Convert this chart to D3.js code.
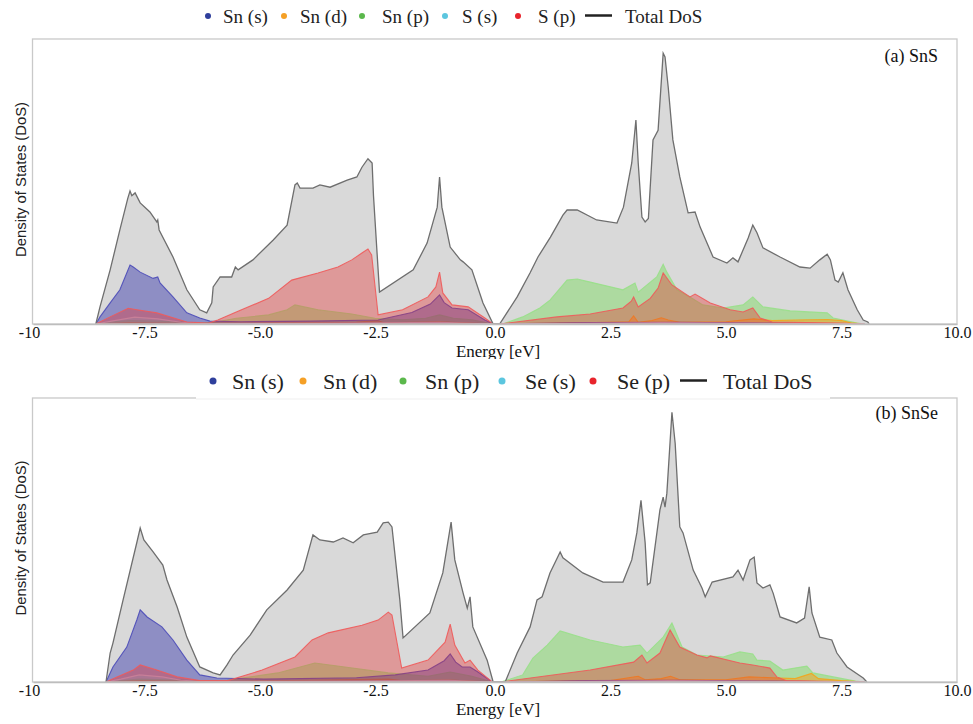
<!DOCTYPE html>
<html>
<head>
<meta charset="utf-8">
<script src="https://cdn.jsdelivr.net/npm/d3@7"></script>
<style>
  body { margin: 0; background: #fff; }
  svg { display: block; }
  .tick text { font-family: "Liberation Serif", "Times New Roman", serif; font-size: 16px; fill: #111; }
</style>
</head>
<body>
<div id="chart"></div>
<script>
// ---- data: [energy eV, DoS in % of panel height] ----

var xTicks = [-10, -7.5, -5, -2.5, 0, 2.5, 5, 7.5, 10];

// (a) SnS
var snsTotal = [[-8.64,0],[-8.55,6],[-8.33,19],[-8.12,33],[-7.95,44],[-7.9,46.7],[-7.86,45],[-7.79,46],[-7.68,42.5],[-7.47,39.3],[-7.32,35.8],[-7.3,36.5],[-7.27,33],[-6.97,23.5],[-6.67,12],[-6.39,5],[-6.24,3.9],[-6.13,7.4],[-6.1,13],[-5.95,16.5],[-5.7,16.5],[-5.62,20],[-5.56,19],[-5.24,22.5],[-4.8,29.5],[-4.5,34.7],[-4.33,48.8],[-4.28,49.5],[-4.22,47.7],[-3.94,47.7],[-3.79,48.8],[-3.57,48],[-3.2,50.5],[-2.99,51.6],[-2.88,55],[-2.75,58],[-2.66,56.5],[-2.63,45],[-2.5,11.2],[-1.77,19],[-1.47,28.4],[-1.25,41],[-1.2,51.6],[-1.15,41],[-0.97,27],[-0.75,22.5],[-0.69,21.8],[-0.5,19],[-0.26,7.4],[-0.04,0],[0.1,0],[0.48,9.5],[0.76,18],[0.93,23.5],[1.2,30.5],[1.47,38.2],[1.56,40],[1.78,40],[2.2,36.5],[2.64,35.4],[2.78,41],[2.96,56.5],[3.05,71.6],[3.1,56.5],[3.18,37.5],[3.25,35.8],[3.32,37],[3.42,64.6],[3.53,68],[3.64,95],[3.68,93.7],[3.75,83],[3.85,64.6],[4.0,51.6],[4.18,39],[4.33,39.3],[4.44,34],[4.72,23.5],[5.02,21.4],[5.15,23.2],[5.26,21.8],[5.48,30.2],[5.58,34.7],[5.67,32],[5.8,26.7],[6.17,23.5],[6.6,20],[6.82,19.6],[7.03,22.5],[7.19,24.5],[7.26,22.5],[7.36,15.4],[7.43,14.7],[7.53,18],[7.64,12],[7.84,5],[7.97,1.4],[8.07,0.7],[8.1,0]];
var snsSnS = [[-8.64,0],[-8.55,2.5],[-8.33,7.4],[-8.12,12],[-7.9,20.7],[-7.83,20],[-7.68,18.2],[-7.4,16],[-7.3,16.5],[-7.25,14.4],[-6.97,9.5],[-6.67,3.9],[-6.39,2.1],[-6.17,1],[-5.5,0.8],[-4,1],[-2.53,1.4],[-1.8,4],[-1.4,7],[-1.2,10.2],[-1.1,7.5],[-0.93,5.6],[-0.58,5],[-0.22,1.4],[-0.04,0],[0.1,0],[2,0.5],[4,0.6],[6,0.3],[8,0]];
var snsSnD = [[-8.64,0],[-7.9,0.5],[-6.5,0.2],[-5,0.4],[-3,0.6],[-2.55,1.2],[-2.4,0.4],[-1.2,0.8],[-0.04,0],[0.1,0],[2,0.4],[2.9,0.8],[3.0,2.8],[3.1,0.6],[3.4,1.2],[3.6,2.2],[3.75,1.4],[4.0,0.6],[5.0,0.8],[5.6,1.8],[6.0,1.2],[6.5,1.4],[7.2,1.6],[7.5,1.2],[7.7,0.4],[8.0,0]];
var snsSnP = [[-8.64,0],[-8.3,0.8],[-7.9,1.2],[-7.3,1],[-6.6,0.5],[-6.1,0.5],[-5.6,2],[-4.9,3.2],[-4.5,5],[-4.33,6.7],[-3.83,5],[-3.1,3.5],[-2.6,2],[-2.0,1.5],[-1.5,2],[-1.2,3.2],[-0.9,2],[-0.5,1.5],[-0.04,0],[0.17,0],[0.6,2.5],[0.97,5.6],[1.19,8.4],[1.56,15.4],[1.78,15.8],[2.06,14.7],[2.77,12],[3.03,14.4],[3.1,11.2],[3.5,16.5],[3.64,21],[3.72,18.2],[3.94,12],[4.22,9.5],[4.5,6.7],[4.94,5.6],[5.37,6.7],[5.58,9.5],[5.8,6],[6.39,4.6],[7.19,3.9],[7.32,2.1],[7.53,1.4],[7.84,0.3],[8.0,0]];
var snsSS = [[-8.64,0],[-8.3,1],[-7.8,2.4],[-7.3,1.8],[-6.8,0.6],[-6.2,0.2],[-3,0.3],[-1.2,0.6],[-0.04,0],[0.1,0],[3.6,0.5],[8,0]];
var snsSP = [[-8.64,0],[-8.33,2.5],[-7.94,5.5],[-7.75,5],[-7.32,3.9],[-6.67,0.7],[-6.2,0.3],[-6.0,1.4],[-5.6,4.2],[-4.9,9],[-4.4,15.4],[-3.83,17.9],[-3.4,20],[-3.1,22.5],[-2.88,24.9],[-2.75,26.3],[-2.67,24.2],[-2.53,3.2],[-2.0,5],[-1.45,9.5],[-1.28,13],[-1.2,18.2],[-1.13,10.9],[-0.93,6.7],[-0.58,6],[-0.22,2.1],[-0.04,0],[0.1,0],[1.34,2.5],[2.06,3.5],[2.77,5.6],[2.95,8],[3.0,9.5],[3.1,6],[3.36,9],[3.53,12.6],[3.64,17.9],[3.83,13.7],[4.22,9.5],[4.33,10.5],[4.66,7.4],[5.09,5],[5.37,4.2],[5.58,5.6],[5.74,2.1],[6.0,0.7],[7.5,0.3],[8.0,0]];

// (b) SnSe
var snseTotal = [[-8.42,0],[-8.33,10.2],[-8.27,13.7],[-8.05,28.9],[-7.75,49.3],[-7.68,54.2],[-7.6,50],[-7.4,45.8],[-7.19,41.2],[-7.1,35.9],[-6.88,26.4],[-6.67,15.8],[-6.39,5.3],[-6.1,3.2],[-5.95,2.5],[-5.8,6],[-5.67,9.5],[-5.3,16.5],[-4.94,25.4],[-4.5,32.4],[-4.15,39.4],[-3.94,51.8],[-3.79,50],[-3.5,49.3],[-3.29,50.7],[-3.07,49],[-2.85,51.8],[-2.55,52.8],[-2.42,56],[-2.31,56.3],[-2.23,54.6],[-2.06,28.9],[-1.99,15.5],[-1.41,24.3],[-1.13,38.4],[-0.95,56.3],[-0.87,43],[-0.69,31.3],[-0.6,26],[-0.54,30],[-0.48,19.4],[-0.17,7.7],[-0.04,0],[0.22,0],[0.48,10.2],[0.76,19.4],[0.91,28.9],[1.02,30],[1.19,38.4],[1.41,45.8],[1.47,43.7],[1.9,38.4],[2.34,35.2],[2.77,35.2],[2.96,43],[3.07,52.5],[3.16,64],[3.25,49],[3.3,34.2],[3.36,34.9],[3.57,60.6],[3.64,65.1],[3.68,61.6],[3.72,66.5],[3.83,95],[3.9,84],[4.0,54.6],[4.07,52.5],[4.29,39.4],[4.48,33.1],[4.55,30],[4.7,35.2],[5.15,37],[5.26,39.4],[5.37,35.9],[5.52,43],[5.61,44],[5.67,34.9],[5.8,33.1],[5.95,34.2],[6.02,31.3],[6.17,22.9],[6.53,20.8],[6.7,22.5],[6.8,33.5],[6.86,24.3],[7.03,15.8],[7.29,14.8],[7.4,10.2],[7.62,5.3],[7.97,1.4],[8.05,0]];
var snseSnS = [[-8.42,0],[-8.27,5.3],[-7.97,12.3],[-7.75,22],[-7.68,25.4],[-7.53,22.9],[-7.21,19.4],[-6.97,14.8],[-6.67,7.7],[-6.39,2.5],[-6.02,1.4],[-5,1],[-3,1.5],[-2.16,2.5],[-1.45,4.2],[-1.1,7.5],[-0.97,9.9],[-0.85,7],[-0.71,5.3],[-0.54,5.3],[-0.37,3.5],[-0.06,0],[0.22,0],[2,0.5],[4,0.6],[6,0.3],[8,0]];
var snseSnD = [[-8.42,0],[-7.7,0.5],[-6,0.2],[-4,0.6],[-2.3,1],[-2.0,0.4],[-1,0.7],[-0.06,0],[0.13,0],[2.5,0.5],[3.1,2],[3.25,0.8],[3.6,1.2],[3.8,2],[4.0,0.8],[5.0,0.8],[5.5,1.8],[6.0,1.5],[6.5,1.2],[6.85,3],[7.0,1.2],[7.5,0.5],[8,0]];
var snseSnP = [[-8.42,0],[-7.7,1],[-6.5,0.5],[-5.8,0.6],[-4.7,3.2],[-3.9,6.7],[-3.25,5.3],[-2.31,3.2],[-1.45,2],[-0.97,3.5],[-0.5,2],[-0.06,0],[0.13,0],[0.6,2.5],[0.82,8.4],[1.13,13],[1.41,18],[2.06,14.8],[2.77,12.3],[3.14,13],[3.29,10.2],[3.64,15.8],[3.83,20.8],[4.05,12.3],[4.37,9.5],[4.94,8.8],[5.3,10.6],[5.58,9.9],[5.67,7.7],[5.95,7.4],[6.23,4.2],[6.75,5.6],[6.88,3.2],[7.32,1.8],[7.8,0.3],[8,0]];
var snseSeS = [[-8.42,0],[-8.1,1],[-7.7,2.5],[-7.2,1.8],[-6.8,0.6],[-6.2,0.2],[-3,0.3],[-1,0.6],[-0.06,0],[0.13,0],[3.8,0.5],[8,0]];
var snseSeP = [[-8.42,0],[-8.18,1.8],[-7.83,4.2],[-7.68,6],[-7.32,4.2],[-6.88,1.8],[-6.39,0.5],[-5.78,0.5],[-5.04,4.2],[-4.33,8.8],[-3.96,14.8],[-3.61,17.3],[-2.88,20],[-2.53,21.8],[-2.31,24.6],[-2.23,23.6],[-2.02,4.9],[-1.45,7.7],[-1.08,14],[-0.97,20.4],[-0.87,13],[-0.65,6.7],[-0.54,7.7],[-0.37,4.2],[-0.06,0],[0.13,0],[2.06,4.2],[3.0,7],[3.18,9.5],[3.29,6.7],[3.57,10.2],[3.79,18.3],[4.0,12.3],[4.37,9.5],[4.59,8.5],[4.66,9.2],[5.3,6.7],[5.58,6],[5.95,4.9],[6.1,1.8],[6.3,0.5],[8,0]];

var snsLabels = ["Sn (s)", "Sn (d)", "Sn (p)", "S (s)", "S (p)", "Total DoS"];
var snseLabels = ["Sn (s)", "Sn (d)", "Sn (p)", "Se (s)", "Se (p)", "Total DoS"];

// ---- styles ----
var dotColors = ["#2f3f9c", "#f5a026", "#5bb84c", "#5cc6df", "#e8242c"];
var partFill = ["rgba(50,50,170,0.45)", "rgba(245,160,30,0.5)", "rgba(120,220,90,0.45)", "rgba(120,200,230,0.3)", "rgba(232,50,50,0.38)"];
var partLine = ["#4a4ab8", "#f3a51c", "#98e088", "#b8b0d8", "#f05a5a"];

var width = 973, height = 724;
var xLeft = 33, xRight = 957;

var svg = d3.select("#chart").append("svg")
    .attr("width", width)
    .attr("height", height)
    .style("font-family", "'Liberation Serif', 'Times New Roman', serif");

svg.append("rect").attr("width", width).attr("height", height).attr("fill", "#fff");

var x = d3.scaleLinear().domain([-10, 10]).range([xLeft, xRight]);

var panels = [
    {
        top: 39, base: 324, title: "(a) SnS", titleY: 62,
        total: snsTotal, parts: [snsSnS, snsSnD, snsSnP, snsSS, snsSP],
        labels: snsLabels,
        legend: { y: 16, size: 19, r: 3, dots: [208, 284, 362, 445, 518], texts: [223, 300, 382, 462, 538], line: [585, 612], total: 625, gap: null }
    },
    {
        top: 398, base: 682, title: "(b) SnSe", titleY: 419,
        total: snseTotal, parts: [snseSnS, snseSnD, snseSnP, snseSeS, snseSeP],
        labels: snseLabels,
        legend: { y: 381, size: 22, r: 3.5, dots: [213, 303, 403, 502, 593], texts: [232, 323, 425, 525, 617], line: [680, 707], total: 723, gap: [196, 830] }
    }
];

// draw order of partials: Sn(p), Sn(d), Sn(s), S(s), S(p)
var drawOrder = [2, 1, 0, 3, 4];

panels.forEach(function(p) {
    var y = d3.scaleLinear().domain([0, 100]).range([p.base, p.top]);
    var g = svg.append("g");

    var area = d3.area()
        .x(function(d) { return x(d[0]); })
        .y0(y(0))
        .y1(function(d) { return y(d[1]); });
    var line = d3.line()
        .x(function(d) { return x(d[0]); })
        .y(function(d) { return y(d[1]); });

    // total DoS
    g.append("path").datum(p.total)
        .attr("d", area)
        .attr("fill", "#d9d9d9");

    drawOrder.forEach(function(i) {
        g.append("path").datum(p.parts[i])
            .attr("d", area)
            .attr("fill", partFill[i]);
        g.append("path").datum(p.parts[i])
            .attr("d", line)
            .attr("fill", "none")
            .attr("stroke", partLine[i])
            .attr("stroke-width", 1.1)
            .attr("stroke-opacity", 0.9);
    });

    g.append("path").datum(p.total)
        .attr("d", line)
        .attr("fill", "none")
        .attr("stroke", "#6e6e6e")
        .attr("stroke-width", 1.3);

    // frame
    g.append("rect")
        .attr("x", xLeft - 0.5)
        .attr("y", p.top)
        .attr("width", xRight - xLeft + 0.5)
        .attr("height", p.base - p.top)
        .attr("fill", "none")
        .attr("stroke", "#c9c9c9")
        .attr("stroke-width", 1.3);

    // x axis
    var xAxis = d3.axisBottom(x)
        .tickValues(xTicks)
        .tickSize(0)
        .tickPadding(3)
        .tickFormat(function(d) {
            var s = (d === -10) ? "-10" : d3.format(".1f")(d);
            return s.replace("\u2212", "-");
        });
    var ax = g.append("g")
        .attr("transform", "translate(0," + p.base + ")")
        .call(xAxis);
    ax.select(".domain").attr("stroke", "#bdbdbd").attr("stroke-width", 1.3);
    // digits centred on the tick, the minus sign hangs to the left
    ax.selectAll(".tick text").attr("dx", function(d) { return d < 0 ? -4 : 0; });

    g.append("text")
        .attr("x", 498)
        .attr("y", p.base + 33)
        .attr("text-anchor", "middle")
        .attr("font-size", 17)
        .attr("fill", "#111")
        .text("Energy [eV]");

    g.append("text")
        .attr("transform", "translate(26," + ((p.top + p.base) / 2 - 2) + ") rotate(-90)")
        .attr("text-anchor", "middle")
        .attr("font-family", "'Liberation Sans', Arial, sans-serif")
        .attr("font-size", 15)
        .attr("textLength", 155)
        .attr("lengthAdjust", "spacingAndGlyphs")
        .attr("fill", "#222")
        .text("Density of States (DoS)");

    g.append("text")
        .attr("x", 938)
        .attr("y", p.titleY)
        .attr("text-anchor", "end")
        .attr("font-size", 18)
        .attr("fill", "#111")
        .text(p.title);

    // legend
    var L = p.legend;
    var lg = svg.append("g");
    if (L.gap) {
        lg.append("rect")
            .attr("x", L.gap[0]).attr("y", L.y - 22)
            .attr("width", L.gap[1] - L.gap[0]).attr("height", p.top - (L.y - 22) + 1)
            .attr("fill", "#fff");
        lg.append("line")
            .attr("x1", L.gap[0]).attr("x2", L.gap[1])
            .attr("y1", p.top + 1).attr("y2", p.top + 1)
            .attr("stroke", "#efefef");
    }
    L.dots.forEach(function(cx, i) {
        lg.append("circle")
            .attr("cx", cx).attr("cy", L.y)
            .attr("r", L.r)
            .attr("fill", dotColors[i]);
        lg.append("text")
            .attr("x", L.texts[i])
            .attr("y", L.y + L.size * 0.38)
            .attr("font-size", L.size)
            .attr("fill", "#222")
            .text(p.labels[i]);
    });
    lg.append("line")
        .attr("x1", L.line[0]).attr("x2", L.line[1])
        .attr("y1", L.y - 0.5).attr("y2", L.y - 0.5)
        .attr("stroke", "#222")
        .attr("stroke-width", 2.5);
    lg.append("text")
        .attr("x", L.total)
        .attr("y", L.y + L.size * 0.38)
        .attr("font-size", L.size)
        .attr("fill", "#222")
        .text(p.labels[5]);
});
</script>
</body>
</html>
